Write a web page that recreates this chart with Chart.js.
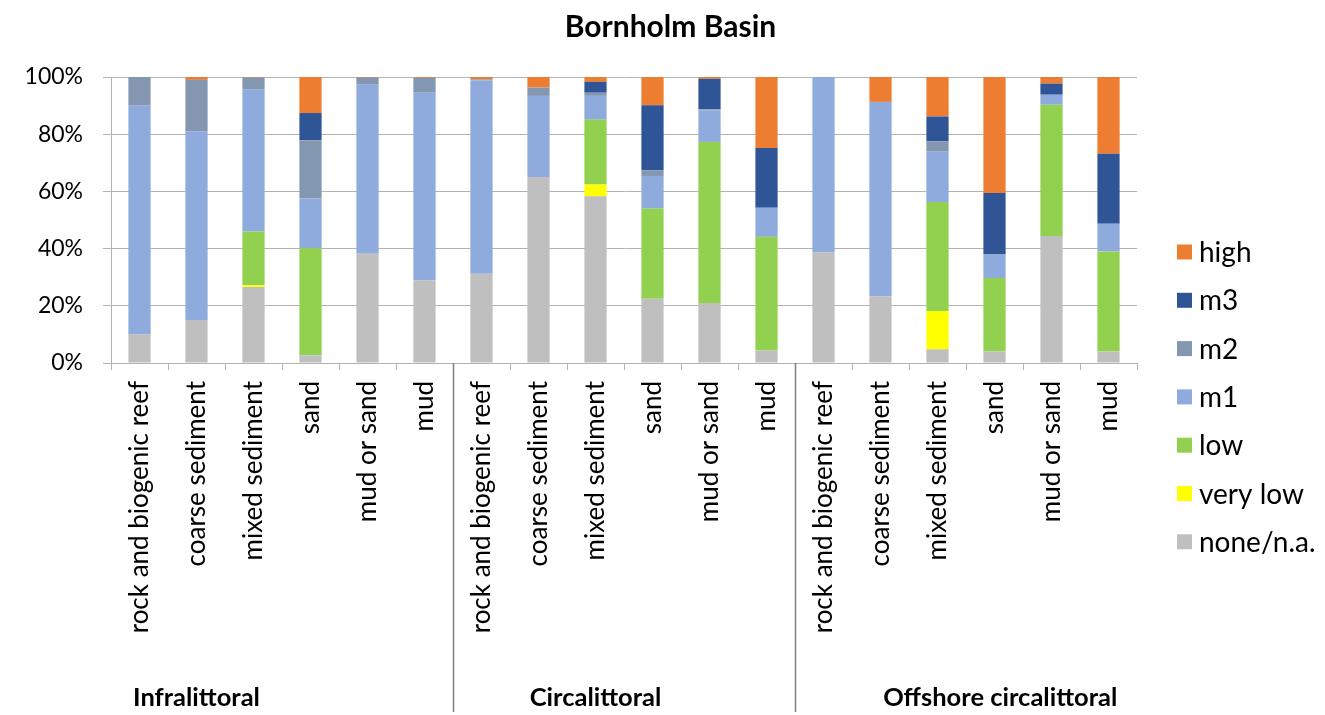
<!DOCTYPE html>
<html><head><meta charset="utf-8">
<script src="https://cdn.jsdelivr.net/npm/chart.js@4/dist/chart.umd.min.js"></script>
<style>html,body{margin:0;padding:0;background:#fff}#wrap{width:1325px;height:715px;position:relative}</style>
</head><body><div id="wrap"><canvas id="c"></canvas></div>
<script>
const categories = [
  'rock and biogenic reef','coarse sediment','mixed sediment','sand','mud or sand','mud',
  'rock and biogenic reef','coarse sediment','mixed sediment','sand','mud or sand','mud',
  'rock and biogenic reef','coarse sediment','mixed sediment','sand','mud or sand','mud'
];
const zones = ['Infralittoral','Circalittoral','Offshore circalittoral'];
const yTickLabels = ['0%','20%','40%','60%','80%','100%'];

const noneNa  = [10, 15, 26.6, 2.7, 38.2, 28.9, 31.2, 65, 58.3, 22.5, 21, 4.4, 38.6, 23.3, 4.8, 4.0, 44.4, 4.0];
const veryLow = [0, 0, 0.6, 0, 0, 0, 0, 0, 4.1, 0, 0, 0, 0, 0, 13.4, 0, 0, 0];
const low     = [0, 0, 18.8, 37.5, 0, 0, 0, 0, 22.7, 31.5, 56.3, 39.7, 0, 0, 38.1, 25.7, 45.9, 35];
const m1      = [80, 66, 49.6, 17.3, 59.1, 65.6, 67.6, 28.4, 8.3, 11.4, 11, 10.2, 61.4, 68, 17.7, 8.2, 3.5, 9.7];
const m2      = [10, 18, 4.2, 20.4, 2.5, 5.2, 0.4, 2.9, 1.1, 2.0, 0.4, 0, 0, 0, 3.5, 0, 0, 0];
const m3      = [0, 0, 0, 9.5, 0, 0, 0, 0, 3.8, 22.7, 10.7, 20.9, 0, 0, 8.7, 21.5, 3.9, 24.5];
const high    = [0, 1, 0.2, 12.6, 0.2, 0.3, 0.8, 3.7, 1.7, 9.9, 0.6, 24.8, 0, 8.7, 13.8, 40.6, 2.3, 26.8];

const seriesNames = ['none/n.a.','very low','low','m1','m2','m3','high'];
const seriesData = [noneNa, veryLow, low, m1, m2, m3, high];
const seriesColors = ['#BFBFBF','#FFFF00','#92D050','#8FAADC','#8497B0','#2F5597','#ED7D31'];

const FONT = 'Lato, "Open Sans", sans-serif';

const zonePlugin = {
  id: 'zonePlugin',
  afterDraw(chart) {
    const ctx = chart.ctx;
    const xs = chart.scales.x;
    const area = chart.chartArea;
    ctx.save();
    // separators between zones
    ctx.strokeStyle = '#7f7f7f';
    ctx.lineWidth = 1.5;
    [6, 12].forEach(b => {
      const x = Math.round((xs.getPixelForValue(b - 1) + xs.getPixelForValue(b)) / 2) + 0.5;
      ctx.beginPath();
      ctx.moveTo(x, area.bottom);
      ctx.lineTo(x, chart.height - 3);
      ctx.stroke();
    });
    // zone labels
    ctx.fillStyle = '#000';
    ctx.font = 'bold 25.5px ' + FONT;
    ctx.textAlign = 'center';
    ctx.textBaseline = 'middle';
    const centers = [1, 8, 15.1];
    zones.forEach((z, i) => {
      ctx.fillText(z, xs.getPixelForValue(centers[i]), chart.height - 17);
    });
    // legend (reverse order, like the reference)
    ctx.font = '28px ' + FONT;
    ctx.textAlign = 'left';
    const ds = chart.data.datasets.slice().reverse();
    const lx = area.right + 40;
    const ly0 = 252, step = 48.3;
    ds.forEach((d, i) => {
      const y = ly0 + i * step;
      ctx.fillStyle = d.backgroundColor;
      ctx.fillRect(lx, y - 7.5, 15, 15);
      ctx.fillStyle = '#000';
      ctx.fillText(d.label, lx + 22, y + 1);
    });
    ctx.restore();
  }
};

new Chart(document.getElementById('c'), {
  type: 'bar',
  data: {
    labels: categories,
    datasets: seriesNames.map((n, i) => ({
      label: n,
      data: seriesData[i],
      backgroundColor: seriesColors[i],
      borderWidth: 0,
      barPercentage: 0.39,
      categoryPercentage: 1.0
    }))
  },
  options: {
    responsive: true,
    maintainAspectRatio: false,
    animation: false,
    devicePixelRatio: 1,
    layout: { padding: { left: 16, right: 0, top: 0, bottom: 0 } },
    plugins: {
      legend: { display: false },
      tooltip: { enabled: false },
      title: {
        display: true,
        text: 'Bornholm Basin',
        color: '#000',
        font: { family: FONT, size: 30, weight: 'bold', lineHeight: 1.2 },
        padding: { top: 9, bottom: 32 }
      }
    },
    scales: {
      x: {
        stacked: true,
        grid: { drawOnChartArea: false, drawTicks: true, tickLength: 7, color: '#b3b3b3', offset: true },
        border: { color: '#b3b3b3' },
        ticks: { maxRotation: 90, minRotation: 90, autoSkip: false, color: '#000', font: { family: FONT, size: 26 }, padding: 11 },
        afterFit(s) { s.height = 352; }
      },
      y: {
        stacked: true,
        min: 0, max: 100,
        grid: { color: '#b3b3b3', tickLength: 8 },
        border: { color: '#b3b3b3' },
        ticks: {
          stepSize: 20,
          color: '#000',
          font: { family: FONT, size: 23 },
          padding: 20,
          callback: (v) => yTickLabels[Math.round(v / 20)]
        },
        afterFit(s) { s.width = 95; }
      },
      legendSpace: {
        type: 'linear',
        position: 'right',
        display: true,
        grid: { display: false, drawTicks: false },
        border: { display: false },
        ticks: { display: false },
        afterFit(s) { s.width = 188; }
      }
    }
  },
  plugins: [zonePlugin]
});
</script>
</body></html>
